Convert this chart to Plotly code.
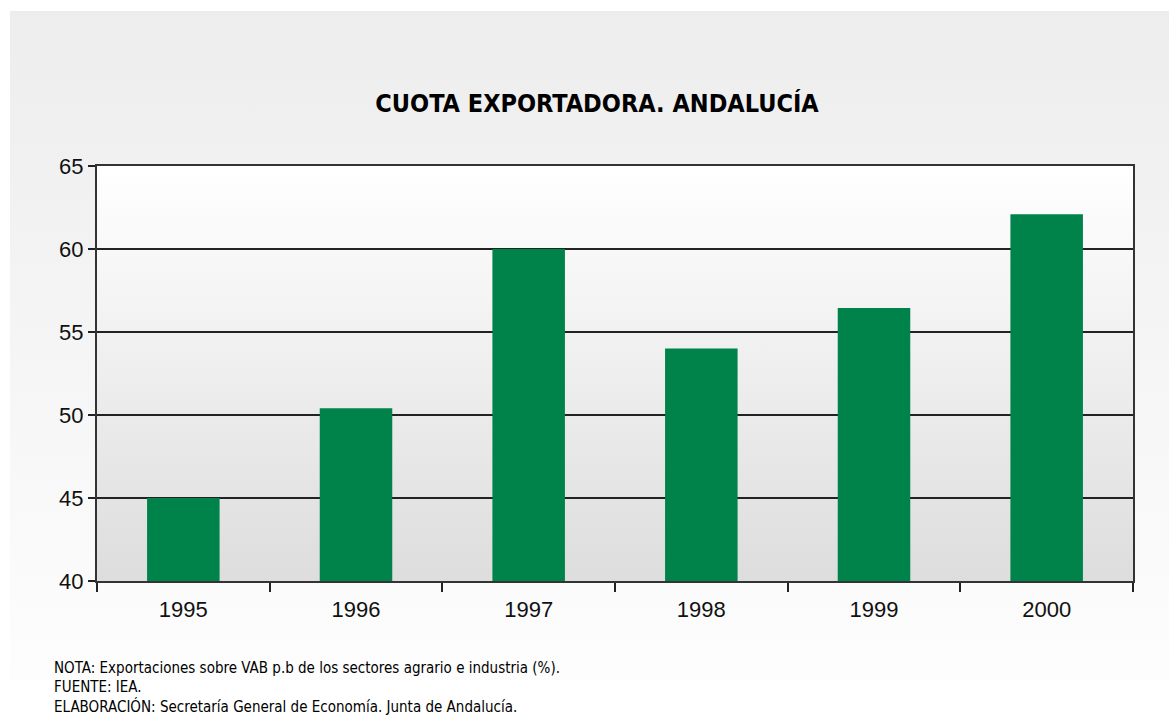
import base64
import plotly.graph_objects as go

# data
years = ["1995", "1996", "1997", "1998", "1999", "2000"]
cuota = [45.0, 50.4, 60.0, 54.0, 56.45, 62.1]
y_ticks = [40, 45, 50, 55, 60, 65]

title_text = "<b>CUOTA EXPORTADORA. ANDALUCÍA</b>"
notes = [
    "NOTA: Exportaciones sobre VAB p.b de los sectores agrario e industria (%).",
    "FUENTE: IEA.",
    "ELABORACIÓN: Secretaría General de Economía. Junta de Andalucía.",
]

W, H = 1169, 717
L, R, T, B = 97, 36, 166, 136
PW, PH = W - L - R, H - T - B

NARROW = "Liberation Sans Narrow, Arial Narrow, DejaVu Sans Condensed, sans-serif"
SANS = "Liberation Sans, Arial, sans-serif"


def grad_svg(top, bottom):
    svg = (
        '<svg xmlns="http://www.w3.org/2000/svg" width="100" height="100" '
        'viewBox="0 0 100 100" preserveAspectRatio="none">'
        '<defs><linearGradient id="g" x1="0" y1="0" x2="0" y2="1">'
        f'<stop offset="0" stop-color="{top}"/><stop offset="1" stop-color="{bottom}"/>'
        '</linearGradient></defs><rect width="100" height="100" fill="url(#g)"/></svg>'
    )
    return "data:image/svg+xml;base64," + base64.b64encode(svg.encode()).decode()


def px_x(x):
    return (x - L) / PW


def px_y(y):
    return (H - B - y) / PH


fig = go.Figure(
    go.Bar(x=years, y=cuota, marker=dict(color="#00834A", line=dict(width=0)),
           base=0, hoverinfo="x+y")
)

fig.update_layout(
    width=W, height=H,
    margin=dict(l=L, r=R, t=T, b=B),
    paper_bgcolor="white",
    plot_bgcolor="rgba(0,0,0,0)",
    bargap=0.58,
    showlegend=False,
    title=dict(text=title_text, x=px_x(597), xref="paper", xanchor="center",
               y=1 - 103 / H, yanchor="middle",
               font=dict(family=NARROW, size=25, color="black")),
    images=[
        # outer panel
        dict(source=grad_svg("#EDEDED", "#FDFDFD"), xref="paper", yref="paper",
             x=px_x(10), y=px_y(11), sizex=(W - 10) / PW, sizey=(680 - 11) / PH,
             sizing="stretch", xanchor="left", yanchor="top", layer="below"),
        # plot area
        dict(source=grad_svg("#FFFFFF", "#DDDDDD"), xref="paper", yref="paper",
             x=0, y=1, sizex=1, sizey=1,
             sizing="stretch", xanchor="left", yanchor="top", layer="below"),
    ],
)

fig.update_xaxes(
    type="category", tickson="boundaries", ticks="outside", ticklen=9,
    tickwidth=1.5, tickcolor="#222", showline=True, linecolor="#333",
    linewidth=2, mirror=True, showgrid=False, ticklabelstandoff=8,
    tickfont=dict(family=SANS, size=22, color="#111"),
)
fig.update_yaxes(
    range=[40, 65], tickvals=y_ticks, ticks="outside", ticklen=7,
    tickwidth=1.5, tickcolor="#222", showline=True, linecolor="#333",
    linewidth=2, mirror=True, showgrid=True, gridcolor="#222", gridwidth=1.5,
    zeroline=False, tickfont=dict(family=SANS, size=22, color="#111"),
)

for i, note in enumerate(notes):
    fig.add_annotation(
        text=note, xref="paper", yref="paper", x=px_x(52), y=px_y(668 + 19 * i),
        xanchor="left", yanchor="middle", showarrow=False,
        font=dict(family=NARROW, size=15, color="black"),
    )

fig.write_html("out.html", config={"displayModeBar": False},
               post_script="document.body.style.margin='0';")
